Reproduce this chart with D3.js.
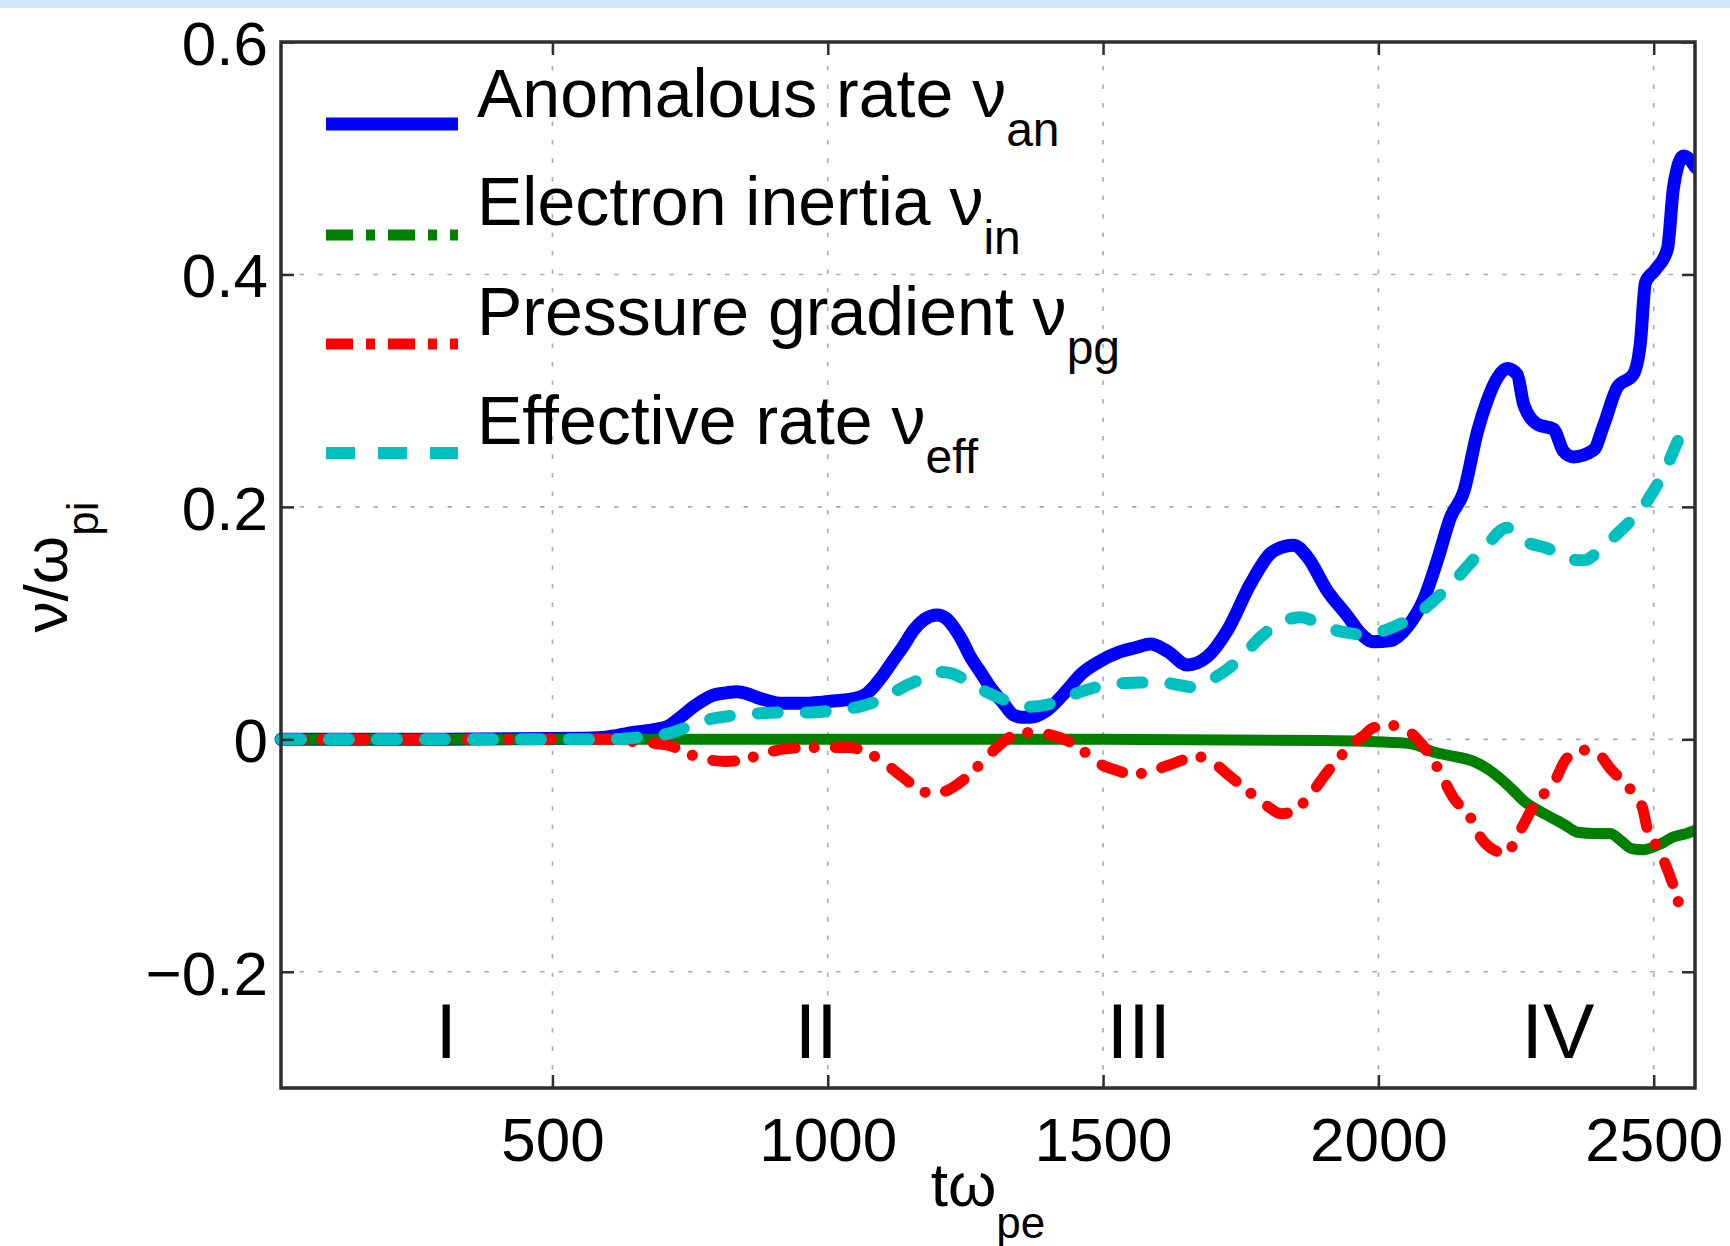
<!DOCTYPE html>
<html>
<head>
<meta charset="utf-8">
<script src="https://cdn.jsdelivr.net/npm/d3@7"></script>
<style>
  html, body { margin: 0; padding: 0; background: #ffffff; }
  svg { display: block; }
  text { font-family: "Liberation Sans", Arial, Helvetica, sans-serif; fill: #000; }
</style>
</head>
<body>
<svg id="chart" width="1730" height="1246"></svg>
<script>
// ---- data: collision-rate components vs. time (t·ω_pe), in units of ω_pi ----
const anomalousT = [7, 300, 560, 600, 647, 680, 709, 735, 756, 775, 792, 815, 836, 855, 872, 893, 914, 940, 963, 990, 1010, 1047, 1070, 1083, 1100, 1119, 1137, 1156, 1175, 1199, 1215, 1228, 1244, 1259, 1277, 1295, 1319, 1337, 1352, 1368, 1398, 1434, 1460, 1490, 1529, 1560, 1586, 1616, 1653, 1689, 1726, 1768, 1804, 1830, 1846, 1871, 1907, 1944, 1968, 1991, 2022, 2053, 2082, 2107, 2131, 2155, 2180, 2198, 2216, 2234, 2252, 2264, 2289, 2318, 2336, 2354, 2391, 2409, 2434, 2463, 2476, 2485, 2503, 2525, 2536, 2554, 2563, 2576];
const anomalousV = [0, 0, 0.001, 0.002, 0.006, 0.008, 0.011, 0.02, 0.028, 0.034, 0.038, 0.040, 0.041, 0.039, 0.036, 0.033, 0.031, 0.031, 0.031, 0.032, 0.033, 0.035, 0.039, 0.045, 0.055, 0.068, 0.080, 0.094, 0.103, 0.107, 0.104, 0.097, 0.085, 0.071, 0.058, 0.045, 0.031, 0.021, 0.019, 0.019, 0.025, 0.042, 0.056, 0.066, 0.075, 0.079, 0.082, 0.076, 0.064, 0.071, 0.094, 0.134, 0.160, 0.166, 0.167, 0.157, 0.128, 0.106, 0.091, 0.084, 0.085, 0.097, 0.120, 0.154, 0.191, 0.213, 0.265, 0.292, 0.311, 0.319, 0.314, 0.288, 0.271, 0.267, 0.248, 0.243, 0.249, 0.270, 0.303, 0.314, 0.342, 0.393, 0.404, 0.422, 0.475, 0.502, 0.500, 0.492];

const inertiaT = [7, 600, 1000, 1500, 1900, 2040, 2070, 2100, 2130, 2173, 2200, 2222, 2245, 2264, 2290, 2313, 2340, 2362, 2390, 2421, 2440, 2460, 2481, 2498, 2512, 2536, 2560, 2578];
const inertiaV = [0, 0, 0, 0, -0.001, -0.003, -0.005, -0.011, -0.014, -0.019, -0.026, -0.034, -0.044, -0.053, -0.061, -0.067, -0.074, -0.080, -0.081, -0.081, -0.087, -0.094, -0.095, -0.093, -0.090, -0.084, -0.081, -0.078];

const pressureT = [7, 560, 600, 647, 709, 756, 790, 814, 845, 872, 927, 981, 1038, 1090, 1132, 1174, 1195, 1217, 1246, 1271, 1307, 1331, 1359, 1392, 1434, 1464, 1490, 1520, 1555, 1590, 1620, 1673, 1700, 1726, 1778, 1800, 1824, 1845, 1869, 1909, 1949, 1975, 1991, 2034, 2071, 2107, 2136, 2167, 2185, 2209, 2231, 2258, 2285, 2318, 2343, 2382, 2403, 2421, 2452, 2479, 2490, 2503, 2518, 2536, 2554, 2562];
const pressureV = [0, 0, 0, -0.002, -0.005, -0.014, -0.018, -0.019, -0.018, -0.014, -0.008, -0.007, -0.007, -0.016, -0.031, -0.045, -0.047, -0.044, -0.035, -0.024, -0.007, 0.002, 0.006, 0.005, -0.001, -0.010, -0.020, -0.026, -0.030, -0.027, -0.022, -0.015, -0.020, -0.030, -0.050, -0.058, -0.064, -0.062, -0.052, -0.027, -0.006, 0.004, 0.010, 0.012, 0.000, -0.024, -0.050, -0.067, -0.084, -0.095, -0.098, -0.078, -0.055, -0.038, -0.016, -0.009, -0.014, -0.025, -0.040, -0.058, -0.080, -0.090, -0.104, -0.126, -0.149, -0.148];

const effectiveT = [7, 600, 666, 691, 718, 774, 820, 865, 910, 963, 1010, 1056, 1100, 1137, 1170, 1199, 1223, 1250, 1283, 1320, 1365, 1400, 1437, 1480, 1529, 1570, 1607, 1635, 1660, 1690, 1719, 1750, 1786, 1820, 1859, 1907, 1940, 1975, 2013, 2071, 2131, 2191, 2234, 2264, 2313, 2336, 2373, 2400, 2434, 2482, 2518, 2554, 2575];
const effectiveV = [0, 0, 0.002, 0.003, 0.006, 0.016, 0.020, 0.022, 0.023, 0.023, 0.025, 0.028, 0.035, 0.045, 0.052, 0.058, 0.057, 0.051, 0.042, 0.034, 0.028, 0.030, 0.037, 0.044, 0.048, 0.049, 0.049, 0.047, 0.045, 0.050, 0.058, 0.070, 0.088, 0.100, 0.105, 0.096, 0.092, 0.090, 0.094, 0.108, 0.133, 0.164, 0.182, 0.171, 0.163, 0.156, 0.154, 0.162, 0.177, 0.201, 0.229, 0.265, 0.272];

const xTicks = [500, 1000, 1500, 2000, 2500];
const yTicks = [-0.2, 0, 0.2, 0.4, 0.6];
const yTickLabels = ["\u22120.2", "0", "0.2", "0.4", "0.6"];
const xDomain = [7, 2575];
const yDomain = [-0.3, 0.6];

const regionNames = ["I", "II", "III", "IV"];
const regionX = [307, 979, 1565, 2326];
const regionY = -0.274;

const legendNames = ["Anomalous rate \u03BD", "Electron inertia \u03BD", "Pressure gradient \u03BD", "Effective rate \u03BD"];
const legendSubs = ["an", "in", "pg", "eff"];

// ---- layout ----
const W = 1730, H = 1246;
const plot = { left: 281, right: 1695, top: 42, bottom: 1088 };

const svg = d3.select("#chart");

// light strip along the top edge
svg.append("rect").attr("x", 0).attr("y", 0).attr("width", W).attr("height", 8).attr("fill", "#cfe8fb");

const x = d3.scaleLinear().domain(xDomain).range([plot.left, plot.right]);
const y = d3.scaleLinear().domain(yDomain).range([plot.bottom, plot.top]);

// dotted grid
const grid = svg.append("g").attr("stroke", "#ababab").attr("stroke-width", 1.6).attr("stroke-dasharray", "4.5,14");
xTicks.forEach(t => {
  grid.append("line").attr("x1", x(t)).attr("x2", x(t)).attr("y1", plot.bottom).attr("y2", plot.top);
});
yTicks.filter(t => t < 0.6).forEach(t => {
  grid.append("line").attr("x1", plot.left).attr("x2", plot.right).attr("y1", y(t)).attr("y2", y(t));
});

// curves
svg.append("clipPath").attr("id", "plotclip")
  .append("rect").attr("x", plot.left - 8).attr("y", plot.top).attr("width", plot.right - plot.left + 8).attr("height", plot.bottom - plot.top);

const line = d3.line().x(d => x(d[0])).y(d => y(d[1])).curve(d3.curveMonotoneX);
const zip = (t, v) => t.map((ti, i) => [ti, v[i]]);

const series = [
  { t: anomalousT, v: anomalousV, color: "#0000ff", width: 13, dash: null, legDash: null },
  { t: inertiaT, v: inertiaV, color: "#007f00", width: 11, dash: null, legDash: "27,13,9,13" },
  { t: pressureT, v: pressureV, color: "#ff0000", width: 11, dash: "22,19,0.1,21", legDash: "27,13,9,13" },
  { t: effectiveT, v: effectiveV, color: "#00bfbf", width: 12, dash: "20,28", legDash: "29,23" }
];

const curves = svg.append("g").attr("clip-path", "url(#plotclip)");
series.forEach(s => {
  const p = curves.append("path")
    .datum(zip(s.t, s.v))
    .attr("d", line)
    .attr("fill", "none")
    .attr("stroke", s.color)
    .attr("stroke-width", s.width)
    .attr("stroke-linejoin", "round")
    .attr("stroke-linecap", "round");
  if (s.dash) p.attr("stroke-dasharray", s.dash);
});

// axes box
const axisColor = "#2e2e2e";
svg.append("rect")
  .attr("x", plot.left).attr("y", plot.top)
  .attr("width", plot.right - plot.left).attr("height", plot.bottom - plot.top)
  .attr("fill", "none").attr("stroke", axisColor).attr("stroke-width", 3.5);

// inward ticks on all four sides via d3 axes
const tickLen = 13;
const axB = d3.axisBottom(x).tickValues(xTicks).tickSize(-tickLen).tickFormat(d => d).tickPadding(29);
const axT = d3.axisTop(x).tickValues(xTicks).tickSize(-tickLen).tickFormat("");
const axL = d3.axisLeft(y).tickValues(yTicks).tickSize(-tickLen).tickFormat((d, i) => yTickLabels[i]).tickPadding(13);
const axR = d3.axisRight(y).tickValues(yTicks).tickSize(-tickLen).tickFormat("");

function styleAxis(g) {
  g.select(".domain").remove();
  g.selectAll(".tick line").attr("stroke", axisColor).attr("stroke-width", 2.5);
  g.selectAll(".tick text").attr("fill", "#000").style("font-size", "62px")
    .style("font-family", '"Liberation Sans", Arial, Helvetica, sans-serif');
}
svg.append("g").attr("transform", `translate(0,${plot.bottom})`).call(axB).call(styleAxis)
  .selectAll(".tick text").attr("dy", "0.71em");
svg.append("g").attr("transform", `translate(0,${plot.top})`).call(axT).call(styleAxis);
svg.append("g").attr("transform", `translate(${plot.left},0)`).call(axL).call(styleAxis)
  .selectAll(".tick text").attr("dy", "0.36em");
svg.append("g").attr("transform", `translate(${plot.right},0)`).call(axR).call(styleAxis);

// region labels
regionNames.forEach((r, i) => {
  svg.append("text").attr("x", x(regionX[i])).attr("y", y(regionY))
    .attr("text-anchor", "middle").style("font-size", "77px").text(r);
});

// axis titles
const xt = svg.append("text").attr("x", (plot.left + plot.right) / 2).attr("y", 1206)
  .attr("text-anchor", "middle").style("font-size", "62px");
xt.append("tspan").text("t\u03C9");
xt.append("tspan").attr("dy", 32).style("font-size", "44px").text("pe");

const yt = svg.append("text")
  .attr("transform", `translate(67,${(plot.top + plot.bottom) / 2 + 2}) rotate(-90)`)
  .attr("text-anchor", "middle").style("font-size", "62px");
yt.append("tspan").text("\u03BD/\u03C9");
yt.append("tspan").attr("dy", 31).style("font-size", "44px").text("pi");

// legend
const leg = svg.append("g");
const legLineY = [124, 235, 344, 453];
const legTextY = [117, 225, 335, 444];
series.forEach((s, i) => {
  const l = leg.append("line")
    .attr("x1", 326).attr("x2", 458)
    .attr("y1", legLineY[i]).attr("y2", legLineY[i])
    .attr("stroke", s.color).attr("stroke-width", s.width);
  if (s.legDash) l.attr("stroke-dasharray", s.legDash);
  const t = leg.append("text").attr("x", 477).attr("y", legTextY[i]).style("font-size", "68px");
  t.append("tspan").text(legendNames[i]);
  t.append("tspan").attr("dy", 29).style("font-size", "48px").text(legendSubs[i]);
});
</script>
</body>
</html>
